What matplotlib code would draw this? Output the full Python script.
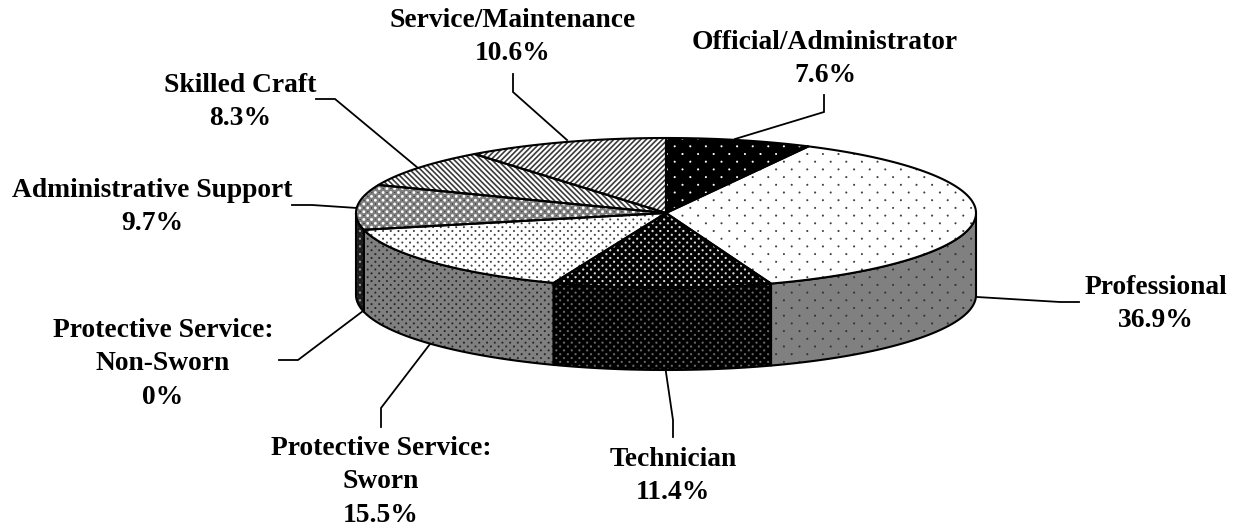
import numpy as np
import matplotlib
matplotlib.use("Agg")
import matplotlib.pyplot as plt
from matplotlib.patches import Polygon

# Pie data, clockwise from 12 o'clock
categories = ["Official/Administrator", "Professional", "Technician",
              "Protective Service:\nSworn", "Protective Service:\nNon-Sworn",
              "Administrative Support", "Skilled Craft", "Service/Maintenance"]
shares = [7.6, 36.9, 11.4, 15.5, 0, 9.7, 8.3, 10.6]
share_labels = ["7.6%", "36.9%", "11.4%", "15.5%", "0%", "9.7%", "8.3%", "10.6%"]

# label centres and leader lines, in pixels
label_pos = [(825, 59), (1156, 304), (673, 476), (381, 482), (163, 364), (152, 207), (240, 102), (513, 37)]
leaders = [[(735, 139), (824, 112), (824, 95)],
           [(977, 297), (1060, 302), (1079, 302)],
           [(665.5, 369), (673, 420), (673, 437)],
           [(430, 344), (381, 408), (381, 427)],
           [(363, 311), (298, 360), (279, 360)],
           [(357, 208), (312, 205), (292, 205)],
           [(418, 168), (335, 99), (316, 99)],
           [(567, 140), (513, 92), (513, 74)]]

W, H = 1234, 527
cx, cy, rx, ry = 666, 213, 310, 75
depth = 82

yy, xx = np.mgrid[0:H, 0:W] + 0.5


def dots(bg, fg, px, py, r):
    # staggered dot lattice
    d1 = np.hypot((xx + px / 4) % px - px / 2, (yy % (2 * py)) - py)
    d2 = np.hypot((xx + px / 4 + px / 2) % px - px / 2, ((yy + py) % (2 * py)) - py)
    a = np.clip(r + 0.5 - np.minimum(d1, d2), 0, 1)
    return bg + (fg - bg) * a


def stripes(sign, period=5.4):
    v = 0.5 + 0.5 * np.cos(2 * np.pi * (xx + sign * yy) / period)
    return np.clip(0.2 + 1.0 * v, 0, 1)


def weave():
    t = dots(0.5, 1.0, 7.7, 3.85, 1.4)
    d = dots(1.0, 0.0, 7.7, 3.85, 1.0)
    return np.minimum(t, np.roll(d, 4, axis=1) * 0.4 + 0.6 * t)


top_textures = [dots(0.0, 1.0, 15.6, 7.7, 1.0), dots(1.0, 0.25, 15.6, 7.7, 1.0),
                dots(0.0, 0.85, 7.7, 3.85, 1.1), dots(1.0, 0.25, 7.7, 3.85, 1.0),
                dots(1.0, 0.25, 7.7, 3.85, 1.0), weave(),
                stripes(-1), stripes(1)]
side_textures = [dots(0.5, 0.2, 15.6, 7.7, 1.0), dots(0.5, 0.2, 15.6, 7.7, 1.0),
                 dots(0.0, 0.4, 7.7, 3.85, 1.1), dots(0.5, 0.15, 7.7, 3.85, 1.0),
                 dots(0.5, 0.15, 7.7, 3.85, 1.0), dots(0.12, 0.6, 7.7, 3.85, 1.1),
                 None, None]


def rim(a0, a1, shift=0):
    t = np.radians(np.linspace(a0, a1, max(2, int(abs(a1 - a0) * 2))))
    return np.column_stack([cx + rx * np.sin(t), cy - ry * np.cos(t) + shift])


fig = plt.figure(figsize=(W / 100, H / 100), dpi=100)
ax = fig.add_axes([0, 0, 1, 1])
plt.rcParams["font.family"] = ["Liberation Serif", "DejaVu Serif"]


def textured(verts, tex, z):
    patch = Polygon(verts, closed=True, fc="none", ec="black", lw=1.5, zorder=z + 0.5, joinstyle="round")
    ax.add_patch(patch)
    im = ax.imshow(tex, cmap="gray", vmin=0, vmax=1, extent=(0, W, H, 0),
                   interpolation="nearest", zorder=z)
    im.set_clip_path(patch)


edges = np.concatenate([[0], np.cumsum(shares)]) * 3.6

for i in range(len(shares)):
    a0, a1 = edges[i], edges[i + 1]
    if a1 <= a0:
        continue
    # front wall, only where the slice faces the viewer
    s0, s1 = max(a0, 90), min(a1, 270)
    if s1 > s0 and side_textures[i] is not None:
        wall = np.vstack([rim(s0, s1), rim(s0, s1, depth)[::-1]])
        textured(wall, side_textures[i], 2)
    top = np.vstack([[(cx, cy)], rim(a0, a1)])
    textured(top, top_textures[i], 3)

for pts in leaders:
    p = np.array(pts)
    ax.plot(p[:, 0], p[:, 1], color="black", lw=1.3, zorder=1, solid_joinstyle="miter")

for name, share, (lx, ly) in zip(categories, share_labels, label_pos):
    ax.text(lx, ly, name + "\n" + share, ha="center", va="center", fontsize=19.8,
            fontweight="bold", color="black", linespacing=1.43, zorder=5)

ax.set_xlim(0, W)
ax.set_ylim(H, 0)
ax.set_aspect("auto")
ax.axis("off")
fig.savefig("out.png", dpi=100)
